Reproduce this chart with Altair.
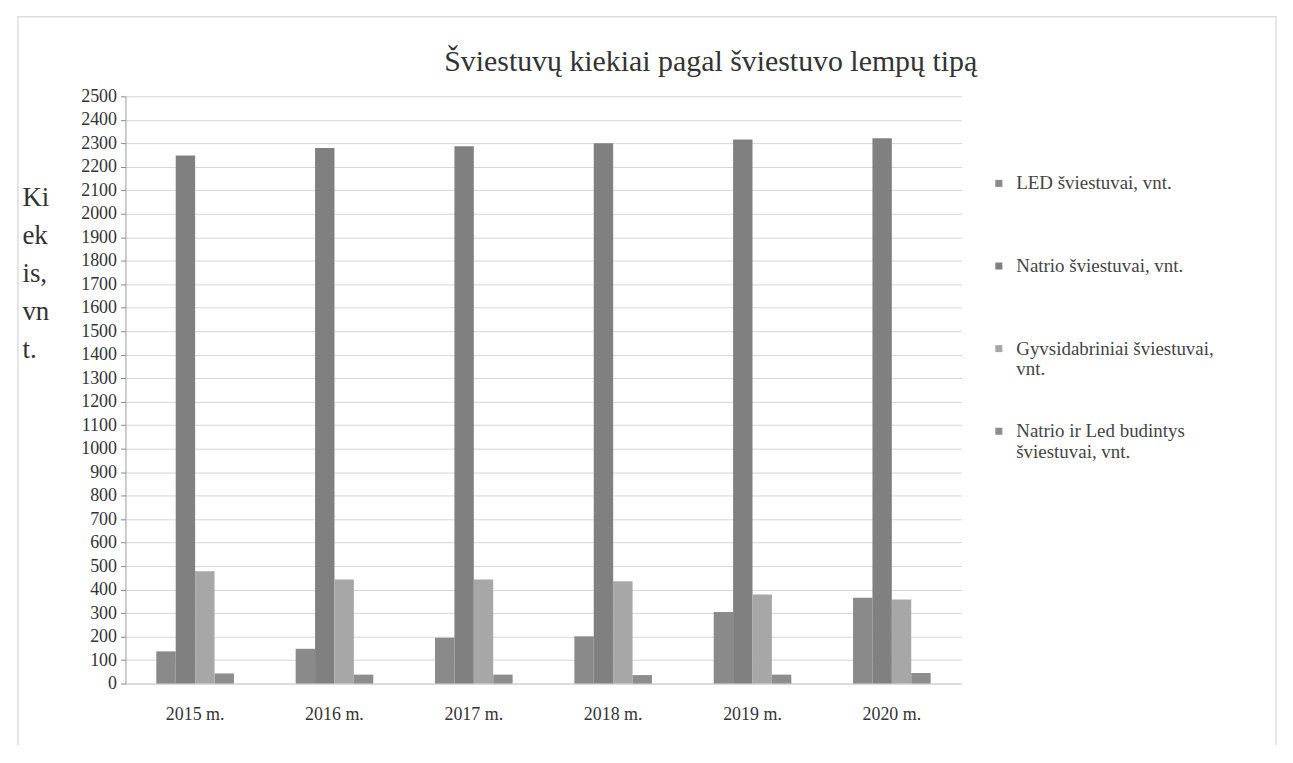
import altair as alt
import pandas as pd

years = ["2015 m.", "2016 m.", "2017 m.", "2018 m.", "2019 m.", "2020 m."]
series = [
    "LED šviestuvai, vnt.",
    "Natrio šviestuvai, vnt.",
    "Gyvsidabriniai šviestuvai, vnt.",
    "Natrio ir Led budintys šviestuvai, vnt.",
]
led = [137, 148, 195, 201, 305, 365]
natrio = [2248, 2280, 2287, 2300, 2316, 2322]
gyvsidabriniai = [478, 443, 443, 436, 379, 358]
budintys = [43, 38, 38, 36, 38, 45]
y_ticks = list(range(0, 2600, 100))
colors = ["#8a8a8a", "#808080", "#a7a7a7", "#8d8d8d"]
legend_lines = {
    series[0]: ["LED šviestuvai, vnt.", ""],
    series[1]: ["Natrio šviestuvai, vnt.", ""],
    series[2]: ["Gyvsidabriniai šviestuvai,", "vnt."],
    series[3]: ["Natrio ir Led budintys", "šviestuvai, vnt."],
}

rows = []
for name, vals in zip(series, [led, natrio, gyvsidabriniai, budintys]):
    for y, v in zip(years, vals):
        rows.append({"Metai": y, "Serija": name, "Kiekis": v})
df = pd.DataFrame(rows)

expr = "''"
for k, lines in reversed(list(legend_lines.items())):
    arr = "[" + ", ".join("'" + s + "'" for s in lines) + "]"
    expr = f"datum.label == '{k}' ? {arr} : ({expr})"

FONT = "Liberation Serif"

bars = alt.Chart(df).mark_bar().encode(
    x=alt.X("Metai:N", sort=years,
            scale=alt.Scale(paddingInner=0.443, paddingOuter=0.2215),
            axis=alt.Axis(title=None, labelAngle=0, ticks=False, domainColor="#cfcfcf",
                          labelFont=FONT, labelFontSize=18, labelColor="#333333",
                          labelPadding=22, grid=False)),
    xOffset=alt.XOffset("Serija:N", sort=series, scale=alt.Scale(paddingInner=0, paddingOuter=0)),
    y=alt.Y("Kiekis:Q",
            scale=alt.Scale(domain=[0, 2500], nice=False),
            axis=alt.Axis(values=y_ticks, format="d", labelOverlap=False, labelFont=FONT,
                          labelFontSize=18, labelColor="#333333", tickSize=5, tickColor="#888888",
                          domainColor="#999999", gridColor="#d6d6d6", labelPadding=4,
                          title=["Ki", "ek", "is,", "vn", "t."], titleAngle=0,
                          titleAlign="left", titleBaseline="top", titleX=-104, titleY=89,
                          titleFont=FONT, titleFontSize=27, titleFontWeight="normal",
                          titleColor="#333333", titleLineHeight=38)),
    color=alt.Color("Serija:N", sort=series,
                    scale=alt.Scale(domain=series, range=colors),
                    legend=alt.Legend(title=None, orient="none", legendX=868, legendY=78,
                                      symbolType="square", symbolSize=50, symbolStrokeWidth=0,
                                      labelFont=FONT, labelFontSize=19, labelColor="#444444",
                                      labelOffset=8, rowPadding=42, labelLimit=400,
                                      labelBaseline="middle", labelExpr=expr)),
)

frame = alt.Chart(alt.Data(values=[{}])).mark_rect(fill=None, stroke="#dddddd", strokeWidth=1.5).encode(
    x=alt.value(-108), x2=alt.value(1156), y=alt.value(-80), y2=alt.value(653)
)

chart = alt.layer(frame, bars).properties(
    width=840,
    height=590,
    autosize=alt.AutoSizeParams(type="none"),
    padding={"left": 118, "top": 87, "right": 325, "bottom": 60},
    title=alt.Title("Šviestuvų kiekiai pagal šviestuvo lempų tipą", font=FONT, fontSize=30,
                    fontWeight="normal", color="#333333", anchor="middle", dx=168,
                    offset=-91, baseline="bottom", frame="group"),
).configure_view(stroke=None)

chart.save("out.html", embed_options={"renderer": "svg", "actions": False})
